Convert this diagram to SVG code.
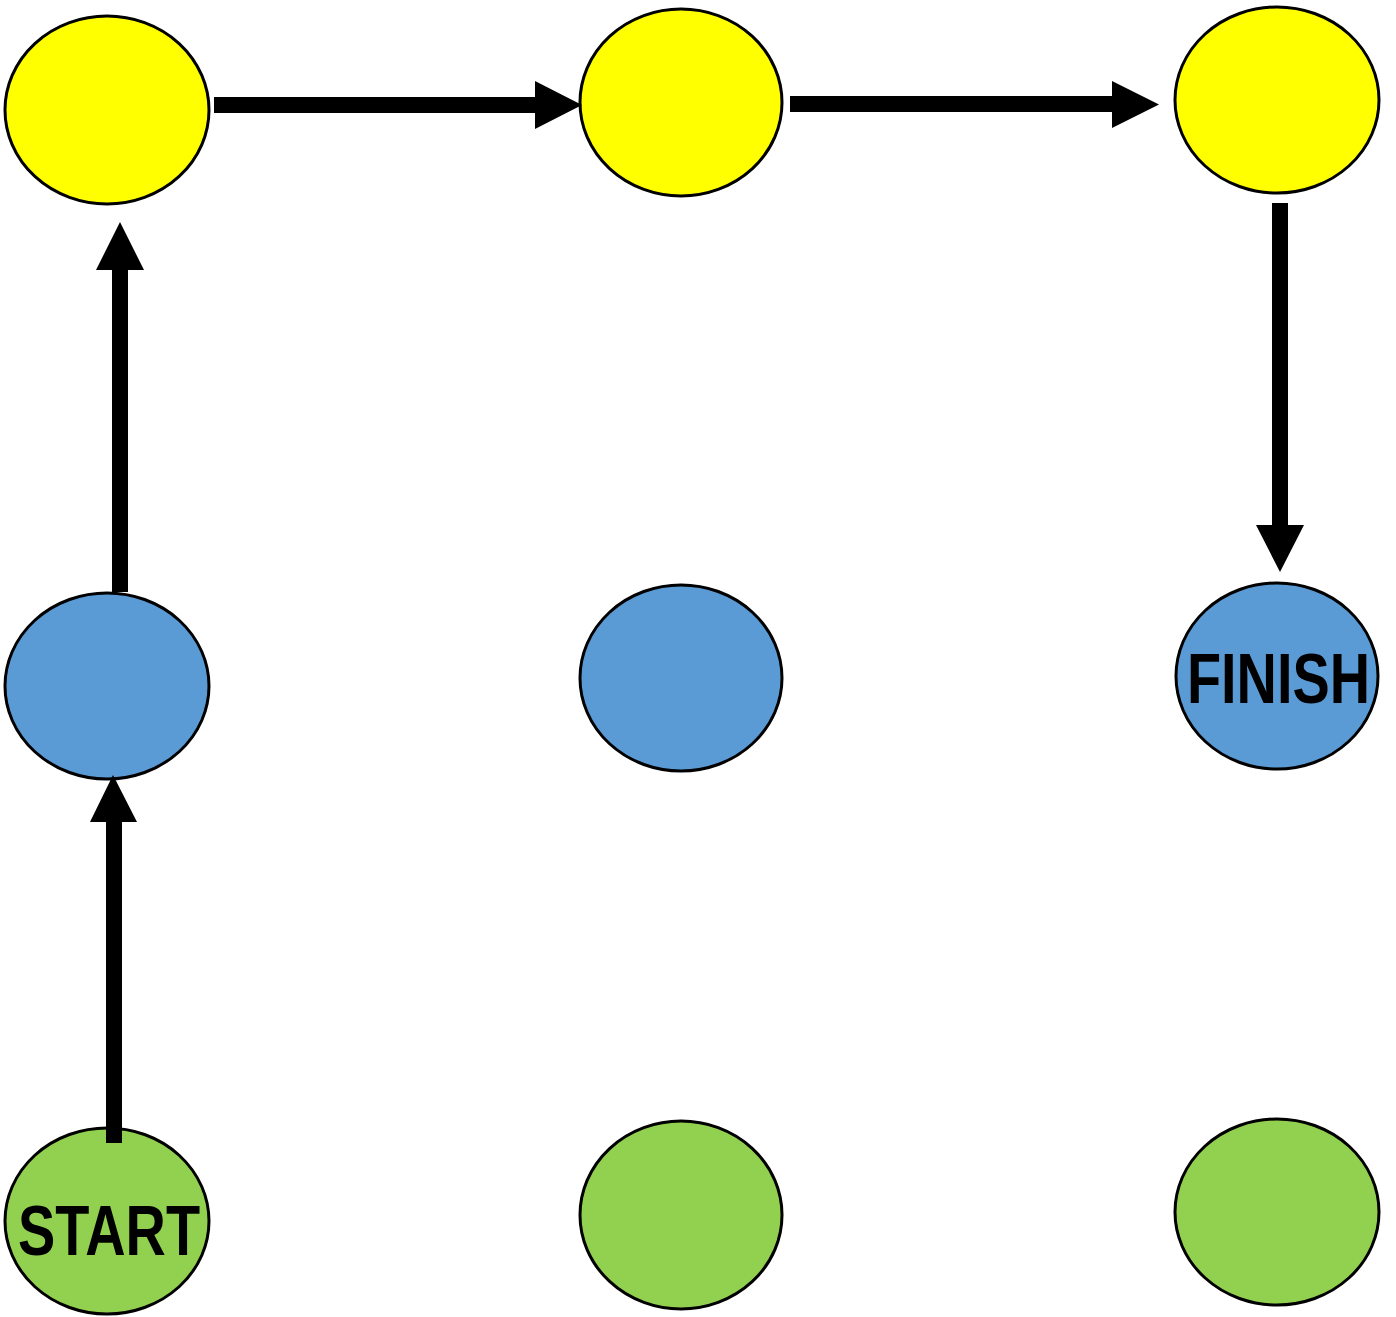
<svg xmlns="http://www.w3.org/2000/svg" width="1396" height="1317" viewBox="0 0 1396 1317">
<style>
.node{stroke:#000;stroke-width:3}
.y{fill:#ffff00}
.b{fill:#5b9bd5}
.g{fill:#92d050}
.lbl{font-family:"Liberation Sans",Arial,sans-serif;font-weight:bold;font-size:70px;fill:#000}
.arr{fill:#000}
</style>
<rect width="1396" height="1317" fill="#fff"/>
<g id="y1"><ellipse class="node y" cx="107" cy="110" rx="102" ry="94"/></g>
<g id="y2"><ellipse class="node y" cx="681" cy="102.5" rx="101" ry="93.5"/></g>
<g id="y3"><ellipse class="node y" cx="1277" cy="100" rx="102" ry="93"/></g>
<g id="b1"><ellipse class="node b" cx="107" cy="686" rx="102" ry="93"/></g>
<g id="b2"><ellipse class="node b" cx="681" cy="678" rx="101" ry="93"/></g>
<g id="finish"><ellipse class="node b" cx="1277" cy="676" rx="101" ry="93"/>
<text class="lbl" x="1187" y="703" textLength="183" lengthAdjust="spacingAndGlyphs">FINISH</text></g>
<g id="start"><ellipse class="node g" cx="107" cy="1221" rx="102" ry="93"/></g>
<g id="g2"><ellipse class="node g" cx="681" cy="1215" rx="101" ry="94"/></g>
<g id="g3"><ellipse class="node g" cx="1277" cy="1212" rx="102" ry="93"/></g>
<g id="connectors">
<polygon class="arr" points="106,1143 106,822 90,822 113,775 137,822 122,822 122,1143"/>
<polygon class="arr" points="112,592 112,270 96,270 120,222 144,270 128,270 128,592"/>
<polygon class="arr" points="214,97 535,97 535,81 582,105 535,129 535,113 214,113"/>
<polygon class="arr" points="790,96 1112,96 1112,81 1159,104.5 1112,128 1112,112 790,112"/>
<polygon class="arr" points="1272,203 1288,203 1288,525 1304,525 1280,572 1256,525 1272,525"/>
</g>
<g id="start-label"><text class="lbl" x="18" y="1255" textLength="182" lengthAdjust="spacingAndGlyphs">START</text></g>
</svg>
